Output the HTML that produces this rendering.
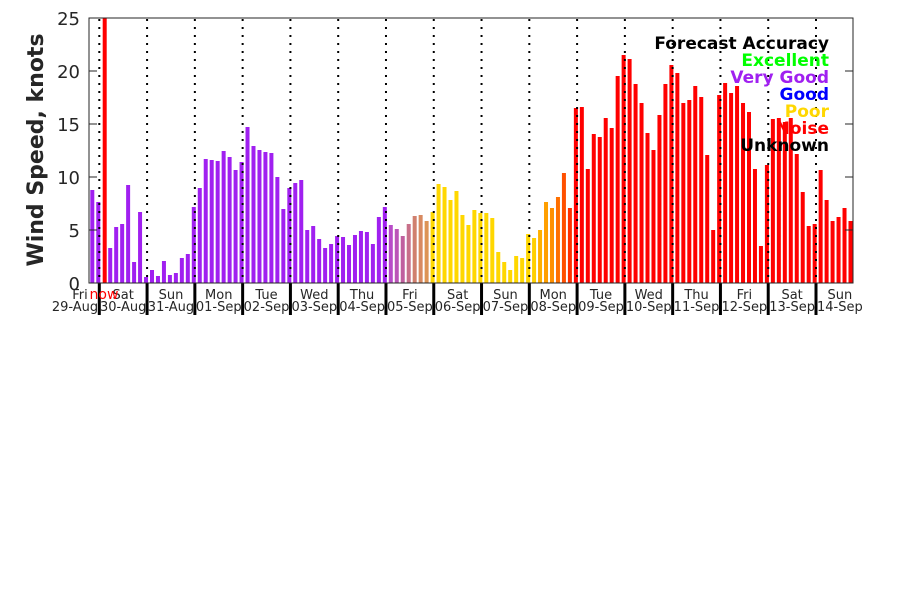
<!DOCTYPE html>
<html><head><meta charset="utf-8"><style>
html,body{margin:0;padding:0;background:#fff;}
svg{display:block;font-family:"DejaVu Sans","Liberation Sans",sans-serif;}
</style></head><body>
<svg id="s" width="900" height="600" viewBox="0 0 900 600" xmlns="http://www.w3.org/2000/svg">
<rect width="900" height="600" fill="#fff"/>
<g id="bars"></g>
<g id="grid"></g>
<rect x="89" y="18" width="764" height="265" fill="none" stroke="#262626" stroke-width="1"/>
<g stroke="#262626" stroke-width="1">
<line x1="89" y1="230" x2="97" y2="230"/><line x1="89" y1="177" x2="97" y2="177"/><line x1="89" y1="124" x2="97" y2="124"/><line x1="89" y1="71" x2="97" y2="71"/>
<line x1="853" y1="230" x2="845" y2="230"/><line x1="853" y1="177" x2="845" y2="177"/><line x1="853" y1="124" x2="845" y2="124"/><line x1="853" y1="71" x2="845" y2="71"/>
</g>
<g font-size="18" fill="#262626" text-anchor="end">
<text x="80" y="290">0</text><text x="80" y="237">5</text><text x="80" y="184">10</text><text x="80" y="131">15</text><text x="80" y="78">20</text><text x="80" y="25">25</text>
</g>
<text transform="translate(43,150) rotate(-90)" text-anchor="middle" font-size="22" font-weight="bold" fill="#262626">Wind Speed, knots</text>
<g id="xl" font-size="13" fill="#262626" text-anchor="middle"></g>
<text x="104" y="299" font-size="14" fill="#ff0000" text-anchor="middle">now</text>
<g font-size="17" font-weight="bold" text-anchor="end">
<text x="829" y="49" fill="#000">Forecast Accuracy</text>
<text x="829" y="66" fill="#00ff00">Excellent</text>
<text x="829" y="83" fill="#a020f0">Very Good</text>
<text x="829" y="100" fill="#0000ff">Good</text>
<text x="829" y="117" fill="#ffd700">Poor</text>
<text x="829" y="134" fill="#ff0000">Noise</text>
<text x="829" y="151" fill="#000">Unknown</text>
</g>
</svg>
<script>
var h=[93,81,0,35,56,59,98,21,71,6,13,7,22,8,10,25,29,76,95,124,123,122,132,126,113,121,156,137,133,131,130,106,74,95,100,103,53,57,44,35,39,47,46,38,48,52,51,39,66,76,58,54,47,59,67,68,62,71,99,96,83,92,68,58,73,70,70,65,31,21,13,27,25,49,45,53,81,75,86,110,75,175,176,114,149,146,165,155,207,228,224,199,180,150,133,168,199,218,210,180,183,197,186,128,53,188,200,190,197,180,171,114,37,118,164,165,161,165,129,91,57,59,113,83,62,66,75,62];
var special={50:"#b84cc8",51:"#bb55b8",52:"#c0609f",53:"#c8708a",54:"#d0806e",55:"#d88a60",56:"#dd9455",57:"#ffd700",74:"#ffd000",75:"#ffb000",76:"#ff9f00",77:"#ff9000",78:"#ff7000",79:"#ff5000",80:"#ff3000"};
function col(k){if(special[k])return special[k];if(k<=49)return "#a020f0";if(k<=73)return "#ffd700";return "#ff0000";}
var NS="http://www.w3.org/2000/svg",b=document.getElementById("bars");
function el(t,a,p){var e=document.createElementNS(NS,t);for(var q in a)e.setAttribute(q,a[q]);p.appendChild(e);return e;}
for(var k=0;k<h.length;k++){if(k==2)continue;var x=90.3+5.97*k;el("rect",{x:x.toFixed(2),y:(283-h[k]).toFixed(1),width:4,height:h[k],fill:col(k)},b);}
el("rect",{x:102.7,y:18,width:4,height:265,fill:"#ff0000"},b);
var g=document.getElementById("grid");
var days=["Sat","Sun","Mon","Tue","Wed","Thu","Fri","Sat","Sun","Mon","Tue","Wed","Thu","Fri","Sat","Sun"];
var dates=["30-Aug","31-Aug","01-Sep","02-Sep","03-Sep","04-Sep","05-Sep","06-Sep","07-Sep","08-Sep","09-Sep","10-Sep","11-Sep","12-Sep","13-Sep","14-Sep"];
var xl=document.getElementById("xl");
for(var i=0;i<16;i++){var x=99.3+47.78*i;
el("line",{x1:x,y1:19,x2:x,y2:283,stroke:"#000","stroke-width":2,"stroke-dasharray":"2,6"},g);
el("line",{x1:x,y1:283,x2:x,y2:315,stroke:"#000","stroke-width":3},g);
var c=x+23.9;var t=el("text",{x:c,y:299},xl);t.textContent=days[i];var t2=el("text",{x:c,y:311},xl);t2.textContent=dates[i];}
var t=el("text",{x:80,y:299},xl);t.textContent="Fri";var t2=el("text",{x:75,y:311},xl);t2.textContent="29-Aug";
</script>
</body></html>
